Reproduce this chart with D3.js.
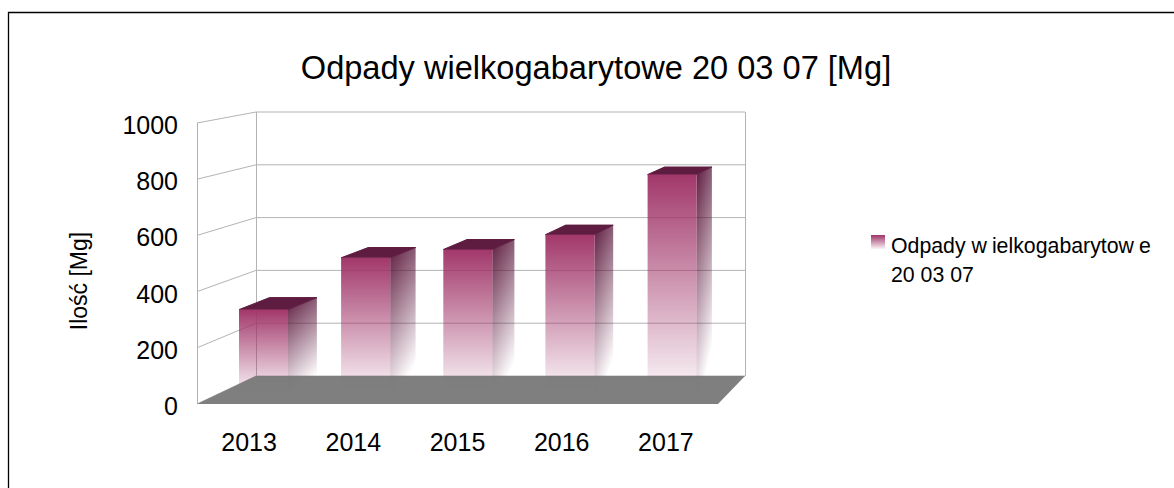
<!DOCTYPE html>
<html>
<head>
<meta charset="utf-8">
<script src="https://cdn.jsdelivr.net/npm/d3@7"></script>
<style>
html, body { margin: 0; padding: 0; background: #fff; }
svg { display: block; font-family: "Liberation Sans", Arial, sans-serif; }
</style>
</head>
<body>
<svg width="1174" height="488"></svg>
<script>
var years = ["2013", "2014", "2015", "2016", "2017"];
var values = [310, 498, 528, 582, 800];
var yTicks = [0, 200, 400, 600, 800, 1000];

var svg = d3.select("svg");
var defs = svg.append("defs");

// only the top and left edges of the frame are in the picture
svg.append("path")
  .attr("d", "M8.5,488V12.5H1174")
  .attr("fill", "none").attr("stroke", "#000").attr("stroke-width", 1.3);

// plot box: front and back planes, the 3D look comes from going between them
var front = {left: 197, right: 718, bottom: 404, top: 123};
var back = {left: 256, right: 745, bottom: 376, top: 112};
var barDepthFront = 0.32;
var barDepthBack = 0.85;
var barOffset = 0.226;
var bw = 0.48;

function lerp(a, b, t) { return a + (b - a) * t; }

function xAt(depth) {
  return d3.scaleLinear().domain([0, years.length])
    .range([lerp(front.left, back.left, depth), lerp(front.right, back.right, depth)]);
}
function yAt(depth) {
  return d3.scaleLinear().domain([0, 1000])
    .range([lerp(front.bottom, back.bottom, depth), lerp(front.top, back.top, depth)]);
}
function pt(pos, value, depth) {
  return [xAt(depth)(pos), yAt(depth)(value)];
}
function poly(points) {
  return points.map(function(p) { return p[0].toFixed(1) + "," + p[1].toFixed(1); }).join(" ");
}

// gradients
var gradFront = defs.append("linearGradient").attr("id", "gradFront")
  .attr("x1", 0).attr("y1", 0).attr("x2", 0).attr("y2", 1);
gradFront.append("stop").attr("offset", "0%").attr("stop-color", "#a03468").attr("stop-opacity", 0.98);
gradFront.append("stop").attr("offset", "100%").attr("stop-color", "#a03468").attr("stop-opacity", 0.03);

var gradSide = defs.append("linearGradient").attr("id", "gradSide")
  .attr("x1", 0).attr("y1", 0).attr("x2", 0.3).attr("y2", 1);
gradSide.append("stop").attr("offset", "0%").attr("stop-color", "#5e1c40").attr("stop-opacity", 1);
gradSide.append("stop").attr("offset", "100%").attr("stop-color", "#5e1c40").attr("stop-opacity", 0);

var gradLegend = defs.append("linearGradient").attr("id", "gradLegend")
  .attr("x1", 0).attr("y1", 0).attr("x2", 0).attr("y2", 1);
gradLegend.append("stop").attr("offset", "0%").attr("stop-color", "#a03468");
gradLegend.append("stop").attr("offset", "100%").attr("stop-color", "#a03468").attr("stop-opacity", 0.05);

// walls and gridlines
var grid = svg.append("g").attr("fill", "none").attr("stroke", "#b3b3b3").attr("stroke-width", 1);
yTicks.forEach(function(t) {
  var a = pt(0, t, 0), b = pt(0, t, 1), c = pt(years.length, t, 1);
  grid.append("polyline").attr("points", poly([a, b, c]));
});
grid.append("line")
  .attr("x1", front.left + 0.5).attr("y1", front.bottom)
  .attr("x2", front.left + 0.5).attr("y2", front.top);
grid.append("line")
  .attr("x1", back.left + 0.5).attr("y1", back.bottom)
  .attr("x2", back.left + 0.5).attr("y2", back.top);
grid.append("line")
  .attr("x1", back.right + 0.5).attr("y1", back.bottom)
  .attr("x2", back.right + 0.5).attr("y2", back.top);

// bars
var bars = svg.append("g").selectAll("g").data(values).enter().append("g");

bars.append("polygon") // right side
  .attr("fill", "url(#gradSide)")
  .attr("points", function(d, i) {
    var r = i + barOffset + bw;
    return poly([pt(r, d, barDepthFront), pt(r, d, barDepthBack), pt(r, 0, barDepthBack), pt(r, 0, barDepthFront)]);
  });
bars.append("polygon") // top
  .attr("fill", "#5e1c40").attr("stroke", "#5e1c40").attr("stroke-linejoin", "round")
  .attr("points", function(d, i) {
    var l = i + barOffset, r = l + bw;
    return poly([pt(l, d, barDepthFront), pt(l, d, barDepthBack), pt(r, d, barDepthBack), pt(r, d, barDepthFront)]);
  });
bars.append("polygon") // front
  .attr("fill", "url(#gradFront)")
  .attr("points", function(d, i) {
    var l = i + barOffset, r = l + bw;
    return poly([pt(l, d, barDepthFront), pt(r, d, barDepthFront), pt(r, 0, barDepthFront), pt(l, 0, barDepthFront)]);
  });

// floor
svg.append("polygon")
  .attr("fill", "#777").attr("fill-opacity", 0.94)
  .attr("points", poly([[front.left, front.bottom], [back.left, back.bottom], [back.right, back.bottom], [front.right, front.bottom]]));

// y axis labels
svg.append("g").selectAll("text").data(yTicks).enter().append("text")
  .attr("x", 178).attr("y", function(d) { return yAt(0)(d) + 11; })
  .attr("text-anchor", "end").attr("font-size", 25).attr("fill", "#000")
  .text(function(d) { return d; });

// x axis labels
svg.append("g").selectAll("text").data(years).enter().append("text")
  .attr("x", function(d, i) { return xAt(0)(i + 0.5); }).attr("y", 451)
  .attr("text-anchor", "middle").attr("font-size", 25).attr("fill", "#000")
  .text(function(d) { return d; });

svg.append("text")
  .attr("transform", "translate(87,281) rotate(-90)")
  .attr("text-anchor", "middle").attr("font-size", 23)
  .text("Ilość [Mg]");

svg.append("text")
  .attr("x", 596).attr("y", 79)
  .attr("text-anchor", "middle").attr("font-size", 32.6)
  .text("Odpady wielkogabarytowe 20 03 07 [Mg]");

// legend
svg.append("rect")
  .attr("x", 871).attr("y", 235).attr("width", 14).attr("height", 14)
  .attr("fill", "url(#gradLegend)");
var leg = svg.append("text").attr("x", 891).attr("y", 253).attr("font-size", 21.3);
leg.append("tspan").text("Odpady w");
leg.append("tspan").attr("dx", 5).text("ielkogabarytow");
leg.append("tspan").attr("dx", 5).text("e");
svg.append("text").attr("x", 891).attr("y", 282).attr("font-size", 21.3).text("20 03 07");
</script>
</body>
</html>
